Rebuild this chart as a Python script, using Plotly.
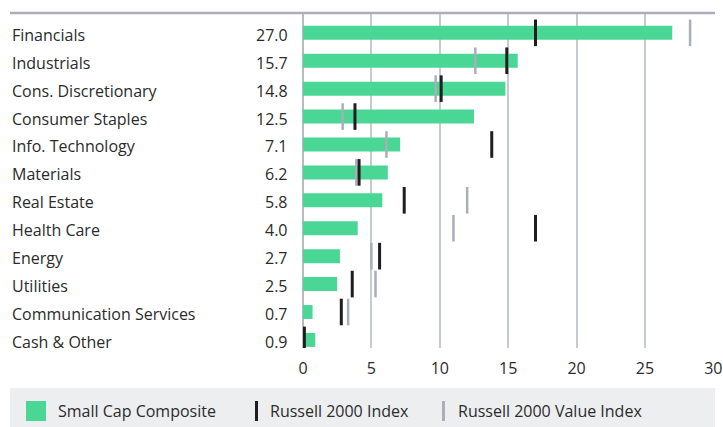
import plotly.graph_objects as go

categories = ["Financials", "Industrials", "Cons. Discretionary", "Consumer Staples",
              "Info. Technology", "Materials", "Real Estate", "Health Care",
              "Energy", "Utilities", "Communication Services", "Cash & Other"]
composite = [27.0, 15.7, 14.8, 12.5, 7.1, 6.2, 5.8, 4.0, 2.7, 2.5, 0.7, 0.9]
russell2000 = [17.0, 14.9, 10.1, 3.8, 13.8, 4.1, 7.4, 17.0, 5.6, 3.6, 2.8, 0.1]
russell2000_value = [28.3, 12.6, 9.7, 2.9, 6.1, 3.9, 12.0, 11.0, 5.0, 5.3, 3.3, None]
x_ticks = [0, 5, 10, 15, 20, 25, 30]

W, H = 723, 427
L, R, T, B = 303, 9, 13, 79
PW, PH = W - L - R, H - T - B

def px(x):
    return (x - L) / PW

def py(y):
    return (H - B - y) / PH

GREEN = "#4AD795"
BLACK = "#1E1E1E"
GRAY = "#A9AEB8"
TEXT = "#2B2B2B"
FONT = "Open Sans"
FS = 16

fig = go.Figure()
fig.add_trace(go.Bar(y=categories, x=composite, orientation="h", width=0.5,
                     marker=dict(color=GREEN, line=dict(width=0)),
                     name="Small Cap Composite", showlegend=False))
fig.add_trace(go.Scatter(y=categories, x=russell2000_value, mode="markers",
                         marker=dict(symbol="line-ns", size=19,
                                     line=dict(width=2.5, color=GRAY)),
                         name="Russell 2000 Value Index", showlegend=False))
fig.add_trace(go.Scatter(y=categories, x=russell2000, mode="markers",
                         marker=dict(symbol="line-ns", size=19,
                                     line=dict(width=3, color=BLACK)),
                         name="Russell 2000 Index", showlegend=False))

annotations = []
for c, v in zip(categories, composite):
    annotations.append(dict(x=px(10), xref="paper", y=c, yref="y", text=c,
                            xanchor="left", yanchor="middle", showarrow=False, yshift=-2,
                            font=dict(family=FONT, size=FS, color=TEXT)))
    annotations.append(dict(x=px(290), xref="paper", y=c, yref="y", text=f"{v:.1f}",
                            xanchor="right", yanchor="middle", showarrow=False, yshift=-2,
                            font=dict(family=FONT, size=FS, color=TEXT)))

shapes = [
    dict(type="line", xref="paper", yref="paper", x0=px(10), x1=px(715),
         y0=py(13), y1=py(13), line=dict(color=GRAY, width=2.5)),
    dict(type="rect", xref="paper", yref="paper", x0=px(10), x1=px(715),
         y0=py(388), y1=py(427), fillcolor="#EDEEF0", line=dict(width=0), layer="below"),
    dict(type="rect", xref="paper", yref="paper", x0=px(26), x1=px(46),
         y0=py(401), y1=py(421), fillcolor=GREEN, line=dict(width=0)),
    dict(type="rect", xref="paper", yref="paper", x0=px(255), x1=px(258),
         y0=py(401), y1=py(421), fillcolor=BLACK, line=dict(width=0)),
    dict(type="rect", xref="paper", yref="paper", x0=px(442), x1=px(445),
         y0=py(401), y1=py(421), fillcolor=GRAY, line=dict(width=0)),
]
for xpos, label in [(56, "Small Cap Composite"), (268, "Russell 2000 Index"),
                    (456, "Russell 2000 Value Index")]:
    annotations.append(dict(x=px(xpos), xref="paper", y=py(411), yref="paper", text=label,
                            xanchor="left", yanchor="middle", showarrow=False,
                            font=dict(family=FONT, size=FS, color=TEXT)))

fig.update_layout(
    width=W, height=H,
    margin=dict(l=L, r=R, t=T, b=B, pad=0, autoexpand=False),
    paper_bgcolor="white", plot_bgcolor="white",
    barmode="overlay",
    showlegend=False,
    xaxis=dict(range=[0, 30.05], tickvals=x_ticks, showgrid=True, gridcolor="#C6CAD1",
               gridwidth=1.5, zeroline=True, zerolinecolor="#B5BAC3", zerolinewidth=1.5,
               showline=False, ticks="", ticklabelstandoff=9, automargin=False,
               tickfont=dict(family=FONT, size=FS, color=TEXT), fixedrange=True),
    yaxis=dict(range=[11.29, -0.71], showticklabels=False, showgrid=False,
               zeroline=False, showline=False, ticks="", fixedrange=True, automargin=False),
    shapes=shapes,
    annotations=annotations,
)

fig.write_html("out.html")
